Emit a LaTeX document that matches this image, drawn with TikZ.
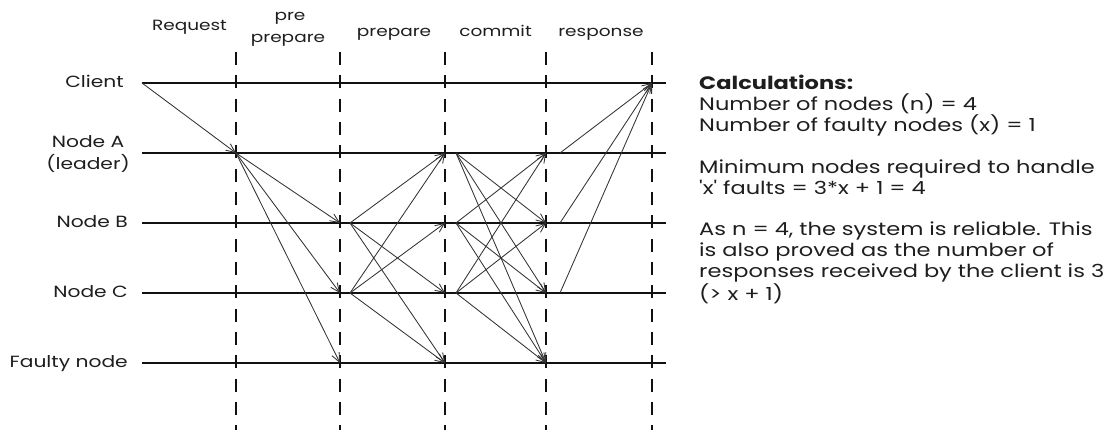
\documentclass[tikz,border=0pt]{standalone}
\usepackage{fontspec}
\setmainfont{Poppins}[FakeStretch=1.25]
\newfontfamily\rawfont{Poppins}[FakeStretch=1.25]
\usepackage{tikz}
\usetikzlibrary{arrows.meta,positioning}
\definecolor{ink}{HTML}{111111}
\definecolor{msgline}{HTML}{333333}
\definecolor{txt}{HTML}{1E1E1E}
\tikzset{
    timeline/.style={draw=ink,line width=2pt},
    phaseline/.style={draw=ink,line width=2pt,dash pattern=on 13pt off 10.33pt},
    msg/.style={-{Straight Barb[length=9pt,width=8pt]},draw=msgline,line width=0.85pt},
    rowlabel/.style={anchor=base east,inner sep=0pt,text=txt,align=center,
      font=\fontsize{16.2}{22}\selectfont},
    phaselabel/.style={anchor=base,inner sep=0pt,text=txt,align=center,
      font=\fontsize{14.8}{22}\selectfont},
    calctext/.style={inner sep=0pt,text=txt,align=left,
      font=\fontsize{18}{20.9}\selectfont}
}

\begin{document}
\begin{tikzpicture}[x=1pt,y=1pt]
  \useasboundingbox (0,0) rectangle (1112,430);
  % rows
  \coordinate (cl0) at (142,347); \coordinate (clE) at (666,347);
  \coordinate (a0) at (142,277);  \coordinate (aE) at (666,277);
  \coordinate (b0) at (142,207);  \coordinate (bE) at (666,207);
  \coordinate (c0) at (142,137);  \coordinate (cE) at (666,137);
  \coordinate (f0) at (142,67);   \coordinate (fE) at (666,67);
  % phase borders
  \coordinate (p1t) at (236,378); \coordinate (p1b) at (236,0);
  \coordinate (p2t) at (340,378); \coordinate (p2b) at (340,0);
  \coordinate (p3t) at (445,378); \coordinate (p3b) at (445,0);
  \coordinate (p4t) at (546,378); \coordinate (p4b) at (546,0);
  \coordinate (p5t) at (652,378); \coordinate (p5b) at (652,0);
  % message ends
  \coordinate (a1) at (236,277);
  \coordinate (b2) at (340,207); \coordinate (c2) at (340,137); \coordinate (f2) at (340,67);
  \coordinate (b2s) at (350,207); \coordinate (c2s) at (350,137);
  \coordinate (a3) at (445,277); \coordinate (b3) at (445,207);
  \coordinate (c3) at (445,137); \coordinate (f3) at (445,67);
  \coordinate (a3s) at (456,277); \coordinate (b3s) at (456,207); \coordinate (c3s) at (456,137);
  \coordinate (a4) at (546,277); \coordinate (b4) at (546,207);
  \coordinate (c4) at (546,137); \coordinate (f4) at (546,67);
  \coordinate (a4s) at (560,277); \coordinate (b4s) at (560,207); \coordinate (c4s) at (560,137);
  \coordinate (cl5) at (652,347);

  \draw[phaseline] (p1t)--(p1b);
  \draw[phaseline] (p2t)--(p2b);
  \draw[phaseline] (p3t)--(p3b);
  \draw[phaseline] (p4t)--(p4b);
  \draw[phaseline] (p5t)--(p5b);
  \draw[timeline] (cl0)--(clE);
  \draw[timeline] (a0)--(aE);
  \draw[timeline] (b0)--(bE);
  \draw[timeline] (c0)--(cE);
  \draw[timeline] (f0)--(fE);

  \node[rowlabel] (client) at (124,342) {Client};
  \node[rowlabel,anchor=east] (nodea) at (130,276) {Node A\\(leader)};
  \node[rowlabel] (nodeb) at (128,202) {Node B};
  \node[rowlabel] (nodec) at (128,132) {Node C};
  \node[rowlabel] (faulty) at (128,62) {Faulty node};

  \node[phaselabel] (request) at (189.5,399) {Request};
  \node[phaselabel] (pre) at (290,409) {pre};
  \node[phaselabel] (preprep) at (288,387) {prepare};
  \node[phaselabel] (prep) at (394,393) {prepare};
  \node[phaselabel] (commit) at (495.5,393) {commit};
  \node[phaselabel] (resp) at (601,393) {response};

  % request
  \draw[msg] (cl0)--(a1);
  % pre-prepare
  \draw[msg] (a1)--(b2);
  \draw[msg] (a1)--(c2);
  \draw[msg] (a1)--(f2);
  % prepare
  \draw[msg] (b2s)--(a3);
  \draw[msg] (b2s)--(c3);
  \draw[msg] (b2s)--(f3);
  \draw[msg] (c2s)--(a3);
  \draw[msg] (c2s)--(b3);
  \draw[msg] (c2s)--(f3);
  % commit
  \draw[msg] (a3s)--(b4);
  \draw[msg] (a3s)--(c4);
  \draw[msg] (a3s)--(f4);
  \draw[msg] (b3s)--(a4);
  \draw[msg] (b3s)--(c4);
  \draw[msg] (b3s)--(f4);
  \draw[msg] (c3s)--(a4);
  \draw[msg] (c3s)--(b4);
  \draw[msg] (c3s)--(f4);
  % response
  \draw[msg] (a4s)--(cl5);
  \draw[msg] (b4s)--(cl5);
  \draw[msg] (c4s)--(cl5);

  \node[calctext,anchor=north west] (calc) at (699,355) {%
    \textbf{Calculations:}\\
    Number of nodes (n) = 4\\
    Number of faulty nodes (x) = 1\\
    \mbox{}\\
    Minimum nodes required to handle\\
    {\rawfont 'x'} faults = 3*x + 1 = 4\\
    \mbox{}\\
    As n = 4, the system is reliable. This\\
    is also proved as the number of\\
    responses received by the client is 3\\
    (> x + 1)};
\end{tikzpicture}
\end{document}
